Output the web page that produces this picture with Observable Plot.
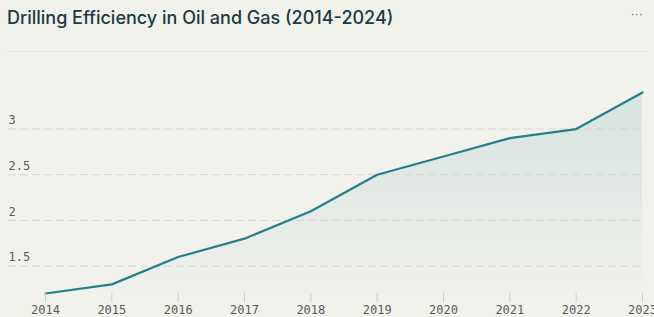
<!DOCTYPE html>
<html>
<head>
<meta charset="utf-8">
<script src="https://cdn.jsdelivr.net/npm/d3@7"></script>
<script src="https://cdn.jsdelivr.net/npm/@observablehq/plot@0.6"></script>
<style>
  html, body { margin: 0; padding: 0; background: #f2f2ed; overflow: hidden; }
  #card { position: relative; width: 654px; height: 317px; }
  #header { position: relative; height: 52px; }
  #title {
    position: absolute; left: 7px; top: 6px;
    font-family: Inter, Roboto, sans-serif; font-weight: 500;
    font-size: 18px; line-height: 24px; color: #1b3a41;
  }
  #menu {
    position: absolute; right: 11px; top: 8px;
    font-family: "DejaVu Sans", sans-serif; font-size: 11px; color: #666; letter-spacing: 0.5px;
  }
  #rule { position: absolute; left: 7px; right: 7px; top: 51px; height: 1px; background: #e6e6e0; }
  #chart svg { display: block; }
</style>
</head>
<body>
<div id="card">
  <div id="header">
    <div id="title">Drilling Efficiency in Oil and Gas (2014-2024)</div>
    <div id="menu">···</div>
    <div id="rule"></div>
  </div>
  <div id="chart"></div>
</div>
<script>
// Average drilling efficiency per year
const years = [2014, 2015, 2016, 2017, 2018, 2019, 2020, 2021, 2022, 2023];
const efficiency = [1.2, 1.3, 1.6, 1.8, 2.1, 2.5, 2.7, 2.9, 3.0, 3.4];
const yTicks = [1.5, 2, 2.5, 3];

const data = years.map((year, i) => ({year, value: efficiency[i]}));
const baseline = d3.min(efficiency);
const teal = "#23808a";

// soft vertical fade under the line
const gradientDefs = () => {
  const defs = d3.create("svg:defs");
  const g = defs.append("linearGradient")
    .attr("id", "effFill")
    .attr("x1", 0).attr("y1", 0).attr("x2", 0).attr("y2", 1);
  g.append("stop").attr("offset", "0%").attr("stop-color", teal).attr("stop-opacity", 0.13);
  g.append("stop").attr("offset", "100%").attr("stop-color", teal).attr("stop-opacity", 0.01);
  return defs.node();
};

const chart = Plot.plot({
  width: 654,
  height: 265,
  marginLeft: 45,
  marginRight: 12,
  marginTop: 40,
  marginBottom: 24,
  style: {background: "transparent", fontFamily: "'DejaVu Sans Mono', monospace", fontSize: "12px", overflow: "visible"},
  x: {domain: [d3.min(years), d3.max(years)], label: null},
  y: {domain: [baseline, d3.max(efficiency)], label: null},
  marks: [
    gradientDefs,
    Plot.areaY(data, {x: "year", y1: baseline, y2: "value", fill: "url(#effFill)"}),
    Plot.ruleY(yTicks, {stroke: "#d5d5cc", strokeWidth: 1, strokeDasharray: "8,4", insetLeft: -37, insetRight: 2}),
    Plot.lineY(data, {x: "year", y: "value", stroke: teal, strokeWidth: 2.2}),
    Plot.axisX({ticks: years, tickFormat: "d", tickSize: 9, tickPadding: 3, stroke: "#cfcfc7", fill: "#5a5a5a", label: null}),
    Plot.axisY({ticks: yTicks, tickFormat: d => String(d), tickSize: 0, tickPadding: 3, textAnchor: "start", dx: -34, dy: -8.5, fill: "#5a5a5a", label: null})
  ]
});

document.getElementById("chart").appendChild(chart);
</script>
</body>
</html>
